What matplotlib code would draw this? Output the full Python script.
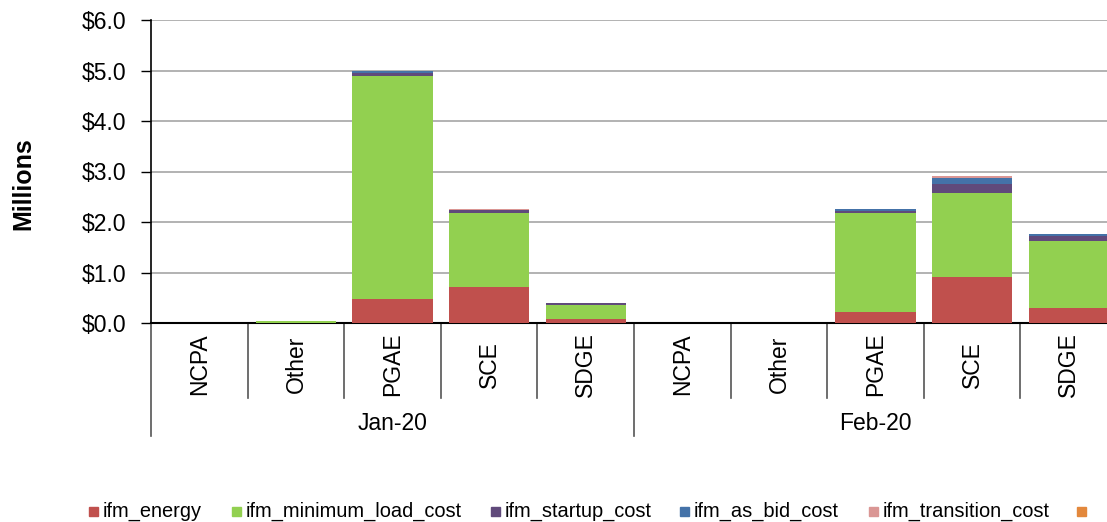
import numpy as np
import matplotlib.pyplot as plt
from matplotlib.patches import Rectangle

plt.rcParams['font.family'] = ['Liberation Sans', 'DejaVu Sans']

months = ["Jan-20", "Feb-20"]
utilities = ["NCPA", "Other", "PGAE", "SCE", "SDGE"]

# values in $ millions, Jan-20 then Feb-20
ifm_energy = [0.0, 0.0, 0.47, 0.71, 0.085, 0.0, 0.0, 0.22, 0.92, 0.30]
ifm_minimum_load_cost = [0.0, 0.03, 4.43, 1.46, 0.275, 0.0, 0.0, 1.95, 1.65, 1.32]
ifm_startup_cost = [0.0, 0.0, 0.045, 0.065, 0.04, 0.0, 0.0, 0.04, 0.19, 0.10]
ifm_as_bid_cost = [0.0, 0.0, 0.045, 0.0, 0.0, 0.0, 0.0, 0.04, 0.12, 0.045]
ifm_transition_cost = [0.0, 0.0, 0.0, 0.03, 0.0, 0.0, 0.0, 0.0, 0.03, 0.0]
ifm_sixth = [0.0] * 10

series = [
    ("ifm_energy", ifm_energy, "#C0504D"),
    ("ifm_minimum_load_cost", ifm_minimum_load_cost, "#92D050"),
    ("ifm_startup_cost", ifm_startup_cost, "#604A7B"),
    ("ifm_as_bid_cost", ifm_as_bid_cost, "#4472A8"),
    ("ifm_transition_cost", ifm_transition_cost, "#DA9694"),
    ("", ifm_sixth, "#E3883C"),
]

fig = plt.figure(figsize=(11.07, 5.22), dpi=100)
ax = fig.add_axes([151 / 1107, 1 - 323 / 522, 966 / 1107, 303 / 522])

x = np.arange(len(months) * len(utilities))
bottom = np.zeros(len(x))
for name, vals, col in series:
    vals = np.array(vals)
    ax.bar(x, vals, 0.83, bottom=bottom, color=col, zorder=3)
    bottom += vals

ax.set_xlim(-0.5, len(x) - 0.5)
ax.set_ylim(0, 6)
ax.set_yticks(np.arange(0, 7, 1))
ax.set_yticklabels([f"${v:.1f}" for v in range(7)], fontsize=16.5)
ax.yaxis.grid(True, color="#A6A6A6", linewidth=1.2, zorder=0)
ax.tick_params(axis="y", length=7, pad=11, direction="out", width=1)
ax.set_xticks([])
for s in ["top", "right"]:
    ax.spines[s].set_visible(False)
ax.spines["left"].set_linewidth(1.2)
ax.spines["bottom"].set_linewidth(1.5)

trans = ax.get_xaxis_transform()
# category labels and separators
for i in range(len(x)):
    ax.text(x[i], -0.137, utilities[i % len(utilities)], rotation=90,
            ha="center", va="center", fontsize=16.5, transform=trans)
for k in range(len(x) + 1):
    if k % len(utilities) == 0:
        y0 = -0.373
    else:
        y0 = -0.2475
    ax.plot([k - 0.5, k - 0.5], [0, y0], color="#555555", lw=1.2,
            transform=trans, clip_on=False)
for j, m in enumerate(months):
    ax.text(j * len(utilities) + 2, -0.333, m, ha="center", va="center",
            fontsize=16.5, transform=trans)

fig.text(23 / 1107, 1 - 184 / 522, "Millions", rotation=90, ha="center",
         va="center", fontsize=18, fontweight="bold")

# legend along the bottom
sq_x = [89, 232, 491, 680, 869, 1077]
for (name, vals, col), px in zip(series, sq_x):
    fig.patches.append(Rectangle((px / 1107, (522 - 516) / 522), 9 / 1107, 9 / 522,
                                 transform=fig.transFigure, color=col))
    if name:
        fig.text((px + 14) / 1107, 1 - 511 / 522, name, ha="left", va="center",
                 fontsize=14.4)

fig.savefig("out.png", dpi=100)
